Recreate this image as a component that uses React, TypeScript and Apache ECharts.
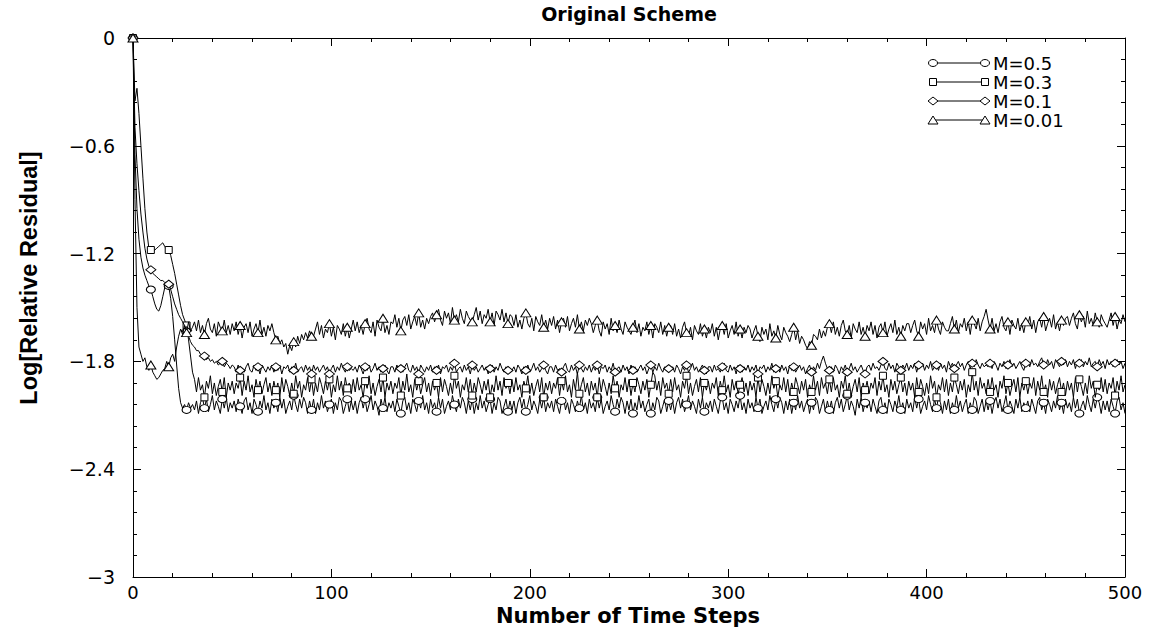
import React, { useEffect, useRef } from 'react';
import * as echarts from 'echarts';

const TITLE = 'Original Scheme';
const X_NAME = 'Number of Time Steps';
const Y_NAME = 'Log[Relative Residual]';
const SERIES_NAMES = ['M=0.5', 'M=0.3', 'M=0.1', 'M=0.01'];
const X_MIN = 0;
const X_MAX = 500;
const X_INTERVAL = 100;
const Y_MIN = -3;
const Y_MAX = 0;
const Y_INTERVAL = 0.6;

// time steps 0..500
const STEPS: number[] = [];
for (let s = 0; s <= 500; s++) STEPS.push(s);

// M=0.5 (steps 0-30, then rows of 20 steps from 31)
const M05 = [
  0, -0.65, -0.95, -1.12, -1.22, -1.28, -1.32, -1.35, -1.38, -1.40, -1.44, -1.48, -1.51, -1.52, -1.49, -1.44,
  -1.39, -1.36, -1.38, -1.45, -1.55, -1.68, -1.82, -1.95, -2.03, -2.06, -2.04, -2.07, -2.03, -2.06, -2.04,
  /* 31-50 */ -2.07, -2.02, -2.09, -2.03, -2.00, -2.06, -2.01, -2.08, -2.04, -1.99, -2.07, -2.02, -2.05, -2.09, -2.01, -2.06, -2.00, -2.08, -2.03, -2.06,
  /* 51-70 */ -2.02, -2.08, -2.01, -2.05, -2.09, -2.02, -2.00, -2.07, -2.03, -2.09, -2.01, -2.04, -2.08, -2.02, -2.06, -1.99, -2.07, -2.03, -2.09, -2.01,
  /* 71-90 */ -2.06, -2.03, -2.08, -2.00, -2.06, -2.01, -2.09, -2.05, -2.02, -2.07, -1.99, -2.04, -2.08, -2.01, -2.06, -2.00, -2.03, -2.09, -2.02, -2.07,
  /* 91-110 */ -2.01, -2.09, -2.03, -2.07, -1.99, -2.06, -2.02, -2.08, -2.04, -2.01, -2.09, -2.03, -2.07, -2.00, -2.02, -2.09, -2.05, -2.01, -2.08, -2.02,
  /* 111-130 */ -2.07, -2.02, -2.09, -2.03, -2.00, -2.06, -2.01, -2.08, -2.04, -1.99, -2.07, -2.02, -2.05, -2.10, -2.01, -2.06, -2.00, -2.08, -2.03, -2.06,
  /* 131-150 */ -2.02, -2.08, -2.01, -2.05, -2.09, -2.02, -2.00, -2.07, -2.03, -2.09, -2.01, -2.04, -2.08, -2.02, -2.06, -1.99, -2.07, -2.03, -2.09, -2.01,
  /* 151-170 */ -2.06, -2.03, -2.08, -2.00, -2.06, -2.01, -2.09, -2.05, -2.02, -2.07, -1.99, -2.04, -2.08, -2.01, -2.06, -2.00, -2.03, -2.09, -2.02, -2.07,
  /* 171-190 */ -2.01, -2.09, -2.03, -2.07, -1.99, -2.06, -2.02, -2.08, -2.04, -2.01, -2.09, -2.03, -2.07, -2.00, -2.02, -2.09, -2.05, -2.01, -2.08, -2.02,
  /* 191-210 */ -2.07, -2.02, -2.09, -2.03, -2.00, -2.06, -2.01, -2.08, -2.04, -1.99, -2.07, -2.02, -2.05, -2.09, -2.01, -2.06, -2.00, -2.08, -2.03, -2.06,
  /* 211-230 */ -2.02, -2.08, -2.01, -2.05, -2.09, -2.02, -2.00, -2.07, -2.03, -2.09, -2.01, -2.04, -2.08, -2.02, -2.06, -1.99, -2.07, -2.03, -2.09, -2.01,
  /* 231-250 */ -2.06, -2.03, -2.08, -2.00, -2.06, -2.01, -2.09, -2.05, -2.02, -2.07, -1.99, -2.04, -2.08, -2.01, -2.06, -2.00, -2.03, -2.09, -2.02, -2.07,
  /* 251-270 */ -2.01, -2.09, -2.03, -2.07, -1.99, -2.06, -2.02, -2.08, -2.04, -2.01, -2.09, -2.03, -2.07, -2.00, -2.02, -2.09, -2.05, -2.01, -2.08, -2.02,
  /* 271-290 */ -2.07, -2.02, -2.09, -2.03, -2.00, -2.06, -2.01, -2.08, -2.04, -1.99, -2.07, -2.02, -2.05, -2.09, -2.01, -2.06, -2.00, -2.08, -2.03, -2.06,
  /* 291-310 */ -2.02, -2.08, -2.01, -2.05, -2.09, -2.02, -2.00, -2.07, -2.03, -2.09, -2.01, -2.04, -2.08, -2.02, -2.06, -1.99, -2.07, -2.03, -2.09, -2.01,
  /* 311-330 */ -2.06, -2.03, -2.08, -2.00, -2.06, -2.01, -2.09, -2.05, -2.02, -2.07, -1.99, -2.04, -2.08, -2.01, -2.06, -2.00, -2.03, -2.09, -2.02, -2.07,
  /* 331-350 */ -2.01, -2.09, -2.03, -2.07, -1.99, -2.06, -2.02, -2.08, -2.04, -2.01, -2.09, -2.03, -2.07, -2.00, -2.02, -2.09, -2.05, -2.01, -2.08, -2.02,
  /* 351-370 */ -2.07, -2.02, -2.09, -2.03, -2.00, -2.06, -2.01, -2.08, -2.04, -1.99, -2.07, -2.02, -2.05, -2.10, -2.01, -2.06, -2.00, -2.08, -2.03, -2.06,
  /* 371-390 */ -2.02, -2.08, -2.01, -2.05, -2.09, -2.02, -2.00, -2.07, -2.03, -2.09, -2.01, -2.04, -2.08, -2.02, -2.06, -1.99, -2.07, -2.03, -2.09, -2.01,
  /* 391-410 */ -2.06, -2.03, -2.08, -2.00, -2.06, -2.01, -2.09, -2.05, -2.02, -2.07, -1.99, -2.04, -2.08, -2.01, -2.06, -2.00, -2.03, -2.09, -2.02, -2.07,
  /* 411-430 */ -2.01, -2.09, -2.03, -2.07, -1.99, -2.06, -2.02, -2.08, -2.04, -2.01, -2.09, -2.03, -2.07, -2.00, -2.02, -2.09, -2.05, -2.01, -2.08, -2.02,
  /* 431-450 */ -2.07, -2.02, -2.09, -2.03, -2.00, -2.06, -2.01, -2.08, -2.04, -1.99, -2.07, -2.02, -2.05, -2.09, -2.01, -2.06, -2.00, -2.08, -2.03, -2.06,
  /* 451-470 */ -2.02, -2.08, -2.01, -2.05, -2.09, -2.02, -2.00, -2.07, -2.03, -2.09, -2.01, -2.04, -2.08, -2.02, -2.06, -1.99, -2.07, -2.03, -2.09, -2.01,
  /* 471-490 */ -2.06, -2.03, -2.08, -2.00, -2.06, -2.01, -2.09, -2.05, -2.02, -2.07, -1.99, -2.04, -2.08, -2.01, -2.06, -2.00, -2.03, -2.09, -2.02, -2.07,
  /* 491-500 */ -2.02, -2.08, -2.01, -2.05, -2.09, -2.02, -2.00, -2.07, -2.03, -2.09,
];

// M=0.3
const M03 = [
  0, -0.35, -0.28, -0.42, -0.60, -0.78, -0.95, -1.08, -1.17, -1.18, -1.19, -1.18, -1.17, -1.16, -1.15, -1.14,
  -1.16, -1.18, -1.18, -1.21, -1.26, -1.31, -1.37, -1.43, -1.49, -1.54, -1.57, -1.60, -1.68, -1.77, -1.86,
  /* 31-50 */ -1.90, -1.97, -1.89, -1.96, -1.93, -2.00, -1.91, -1.95, -1.88, -1.98, -1.92, -1.99, -1.94, -1.90, -1.97, -1.89, -2.00, -1.92, -1.96, -1.91,
  /* 51-70 */ -1.98, -1.92, -1.95, -1.89, -1.99, -1.91, -1.96, -1.88, -1.97, -1.93, -2.00, -1.90, -1.96, -1.91, -1.98, -1.93, -1.89, -1.97, -1.92, -1.99,
  /* 71-90 */ -1.91, -1.96, -1.92, -2.00, -1.89, -1.97, -1.90, -1.94, -1.99, -1.92, -1.98, -1.88, -1.95, -1.91, -2.00, -1.93, -1.96, -1.89, -1.97, -1.90,
  /* 91-110 */ -1.99, -1.92, -1.97, -1.89, -1.93, -1.98, -1.91, -1.96, -1.90, -2.00, -1.93, -1.97, -1.88, -1.96, -1.91, -1.99, -1.89, -1.95, -1.92, -1.98,
  /* 111-130 */ -1.90, -1.97, -1.89, -1.96, -1.93, -2.00, -1.91, -1.95, -1.88, -1.98, -1.92, -1.99, -1.94, -1.90, -1.97, -1.89, -2.00, -1.92, -1.96, -1.91,
  /* 131-150 */ -1.98, -1.92, -1.95, -1.89, -1.99, -1.91, -1.96, -1.87, -1.97, -1.93, -2.00, -1.90, -1.96, -1.91, -1.98, -1.93, -1.89, -1.97, -1.92, -1.99,
  /* 151-170 */ -1.91, -1.96, -1.92, -2.00, -1.89, -1.97, -1.90, -1.94, -1.99, -1.92, -1.98, -1.88, -1.95, -1.91, -2.00, -1.93, -1.96, -1.89, -1.97, -1.90,
  /* 171-190 */ -1.99, -1.92, -1.97, -1.89, -1.93, -1.98, -1.91, -1.96, -1.90, -2.00, -1.93, -1.97, -1.88, -1.96, -1.91, -1.99, -1.89, -1.95, -1.92, -1.98,
  /* 191-210 */ -1.90, -1.97, -1.89, -1.96, -1.93, -2.00, -1.91, -1.95, -1.88, -1.98, -1.92, -1.99, -1.94, -1.90, -1.97, -1.89, -2.00, -1.92, -1.96, -1.91,
  /* 211-230 */ -1.98, -1.92, -1.95, -1.89, -1.99, -1.91, -1.96, -1.88, -1.97, -1.93, -2.00, -1.90, -1.96, -1.86, -1.98, -1.93, -1.89, -1.97, -1.92, -1.99,
  /* 231-250 */ -1.91, -1.96, -1.92, -2.00, -1.89, -1.97, -1.90, -1.94, -1.99, -1.92, -1.98, -1.88, -1.95, -1.91, -2.00, -1.93, -1.96, -1.89, -1.97, -1.90,
  /* 251-270 */ -1.99, -1.92, -1.97, -1.89, -1.93, -1.98, -1.91, -1.96, -1.90, -2.00, -1.93, -1.86, -1.88, -1.96, -1.91, -1.99, -1.89, -1.95, -1.92, -1.98,
  /* 271-290 */ -1.90, -1.97, -1.89, -1.96, -1.93, -2.00, -1.91, -1.95, -1.88, -1.98, -1.92, -1.99, -1.94, -1.90, -1.97, -1.89, -2.00, -1.92, -1.96, -1.91,
  /* 291-310 */ -1.98, -1.92, -1.95, -1.89, -1.99, -1.91, -1.96, -1.88, -1.97, -1.93, -2.00, -1.90, -1.96, -1.91, -1.98, -1.93, -1.89, -1.97, -1.92, -1.99,
  /* 311-330 */ -1.91, -1.96, -1.92, -2.00, -1.89, -1.97, -1.90, -1.94, -1.99, -1.92, -1.98, -1.88, -1.95, -1.91, -2.00, -1.93, -1.96, -1.89, -1.97, -1.90,
  /* 331-350 */ -1.99, -1.92, -1.97, -1.89, -1.93, -1.98, -1.91, -1.96, -1.90, -2.00, -1.93, -1.97, -1.88, -1.96, -1.91, -1.99, -1.89, -1.95, -1.92, -1.98,
  /* 351-370 */ -1.90, -1.97, -1.89, -1.96, -1.93, -2.00, -1.91, -1.95, -1.88, -1.98, -1.92, -1.99, -1.94, -1.90, -1.97, -1.89, -2.00, -1.92, -1.96, -1.91,
  /* 371-390 */ -1.98, -1.92, -1.95, -1.89, -1.99, -1.91, -1.96, -1.88, -1.97, -1.93, -2.00, -1.90, -1.96, -1.91, -1.98, -1.93, -1.89, -1.97, -1.92, -1.99,
  /* 391-410 */ -1.91, -1.96, -1.92, -2.00, -1.89, -1.97, -1.90, -1.94, -1.99, -1.92, -1.98, -1.88, -1.95, -1.91, -2.00, -1.93, -1.96, -1.89, -1.97, -1.90,
  /* 411-430 */ -1.99, -1.92, -1.97, -1.89, -1.93, -1.98, -1.91, -1.96, -1.90, -2.00, -1.93, -1.97, -1.86, -1.96, -1.91, -1.99, -1.89, -1.95, -1.92, -1.98,
  /* 431-450 */ -1.90, -1.97, -1.89, -1.96, -1.93, -2.00, -1.91, -1.95, -1.88, -1.98, -1.92, -1.99, -1.94, -1.90, -1.97, -1.89, -2.00, -1.92, -1.96, -1.91,
  /* 451-470 */ -1.98, -1.92, -1.95, -1.89, -1.99, -1.91, -1.96, -1.88, -1.97, -1.93, -2.00, -1.90, -1.96, -1.91, -1.98, -1.93, -1.89, -1.97, -1.92, -1.99,
  /* 471-490 */ -1.91, -1.96, -1.92, -2.00, -1.89, -1.97, -1.90, -1.94, -1.99, -1.92, -1.98, -1.88, -1.95, -1.91, -2.00, -1.93, -1.96, -1.89, -1.97, -1.90,
  /* 491-500 */ -1.98, -1.92, -1.95, -1.89, -1.99, -1.91, -1.96, -1.88, -1.97, -1.93,
];

// M=0.1
const M01 = [
  0, -0.50, -0.70, -0.85, -0.98, -1.08, -1.17, -1.23, -1.27, -1.29, -1.31, -1.32, -1.33, -1.34, -1.35, -1.35,
  -1.36, -1.36, -1.37, -1.40, -1.44, -1.48, -1.51, -1.54, -1.56, -1.58, -1.60, -1.63, -1.66, -1.69, -1.71,
  /* 31-50 */ -1.72, -1.74, -1.74, -1.76, -1.77, -1.77, -1.79, -1.78, -1.80, -1.79, -1.81, -1.80, -1.82, -1.81, -1.80, -1.83, -1.81, -1.82, -1.84, -1.82,
  /* 51-70 */ -1.83, -1.86, -1.82, -1.85, -1.84, -1.86, -1.83, -1.81, -1.85, -1.86, -1.82, -1.85, -1.83, -1.87, -1.82, -1.84, -1.86, -1.83, -1.85, -1.82,
  /* 71-90 */ -1.86, -1.83, -1.85, -1.82, -1.87, -1.83, -1.84, -1.82, -1.86, -1.83, -1.85, -1.81, -1.86, -1.84, -1.83, -1.86, -1.82, -1.85, -1.83, -1.87,
  /* 91-110 */ -1.82, -1.85, -1.83, -1.86, -1.84, -1.82, -1.85, -1.83, -1.87, -1.84, -1.82, -1.86, -1.83, -1.85, -1.81, -1.84, -1.86, -1.83, -1.85, -1.84,
  /* 111-130 */ -1.85, -1.83, -1.86, -1.82, -1.84, -1.87, -1.83, -1.85, -1.82, -1.86, -1.84, -1.81, -1.85, -1.83, -1.86, -1.84, -1.82, -1.85, -1.87, -1.83,
  /* 131-150 */ -1.83, -1.86, -1.82, -1.85, -1.84, -1.86, -1.83, -1.81, -1.85, -1.86, -1.82, -1.85, -1.83, -1.87, -1.82, -1.84, -1.86, -1.83, -1.85, -1.82,
  /* 151-170 */ -1.86, -1.83, -1.85, -1.82, -1.87, -1.83, -1.84, -1.82, -1.86, -1.83, -1.85, -1.81, -1.86, -1.84, -1.83, -1.86, -1.82, -1.85, -1.83, -1.87,
  /* 171-190 */ -1.82, -1.85, -1.83, -1.86, -1.84, -1.82, -1.85, -1.83, -1.87, -1.84, -1.82, -1.86, -1.83, -1.85, -1.81, -1.84, -1.86, -1.83, -1.85, -1.84,
  /* 191-210 */ -1.85, -1.83, -1.86, -1.82, -1.84, -1.87, -1.83, -1.85, -1.82, -1.86, -1.84, -1.81, -1.85, -1.83, -1.86, -1.84, -1.82, -1.85, -1.87, -1.83,
  /* 211-230 */ -1.83, -1.86, -1.82, -1.85, -1.84, -1.86, -1.83, -1.81, -1.85, -1.86, -1.82, -1.85, -1.83, -1.87, -1.82, -1.84, -1.86, -1.83, -1.85, -1.82,
  /* 231-250 */ -1.86, -1.83, -1.85, -1.82, -1.87, -1.83, -1.84, -1.82, -1.86, -1.83, -1.85, -1.81, -1.86, -1.84, -1.83, -1.86, -1.82, -1.85, -1.83, -1.87,
  /* 251-270 */ -1.82, -1.85, -1.83, -1.86, -1.84, -1.82, -1.85, -1.83, -1.87, -1.84, -1.82, -1.86, -1.83, -1.85, -1.81, -1.84, -1.86, -1.83, -1.85, -1.84,
  /* 271-290 */ -1.85, -1.83, -1.86, -1.82, -1.84, -1.87, -1.83, -1.85, -1.82, -1.86, -1.84, -1.81, -1.85, -1.83, -1.86, -1.84, -1.82, -1.85, -1.87, -1.83,
  /* 291-310 */ -1.83, -1.86, -1.82, -1.85, -1.84, -1.86, -1.83, -1.81, -1.85, -1.86, -1.82, -1.85, -1.83, -1.87, -1.82, -1.84, -1.86, -1.83, -1.85, -1.82,
  /* 311-330 */ -1.86, -1.83, -1.85, -1.82, -1.87, -1.83, -1.84, -1.82, -1.86, -1.83, -1.85, -1.81, -1.86, -1.84, -1.83, -1.86, -1.82, -1.85, -1.83, -1.87,
  /* 331-350 */ -1.82, -1.85, -1.83, -1.86, -1.84, -1.82, -1.85, -1.83, -1.87, -1.84, -1.82, -1.86, -1.83, -1.85, -1.81, -1.84, -1.80, -1.77, -1.81, -1.84,
  /* 351-370 */ -1.85, -1.83, -1.86, -1.82, -1.84, -1.87, -1.83, -1.85, -1.82, -1.86, -1.84, -1.81, -1.85, -1.83, -1.86, -1.84, -1.82, -1.85, -1.87, -1.83,
  /* 371-390 */ -1.82, -1.85, -1.81, -1.84, -1.83, -1.85, -1.82, -1.80, -1.84, -1.85, -1.81, -1.84, -1.82, -1.86, -1.81, -1.83, -1.85, -1.82, -1.84, -1.81,
  /* 391-410 */ -1.85, -1.82, -1.84, -1.81, -1.86, -1.82, -1.83, -1.81, -1.85, -1.82, -1.84, -1.80, -1.85, -1.83, -1.82, -1.85, -1.81, -1.84, -1.82, -1.86,
  /* 411-430 */ -1.80, -1.83, -1.81, -1.84, -1.82, -1.80, -1.83, -1.81, -1.85, -1.82, -1.80, -1.84, -1.81, -1.83, -1.79, -1.82, -1.84, -1.81, -1.83, -1.82,
  /* 431-450 */ -1.83, -1.81, -1.84, -1.80, -1.82, -1.85, -1.81, -1.83, -1.80, -1.84, -1.82, -1.79, -1.83, -1.81, -1.84, -1.82, -1.80, -1.83, -1.85, -1.81,
  /* 451-470 */ -1.80, -1.83, -1.79, -1.82, -1.81, -1.83, -1.80, -1.78, -1.82, -1.83, -1.79, -1.82, -1.80, -1.84, -1.79, -1.81, -1.83, -1.80, -1.82, -1.79,
  /* 471-490 */ -1.83, -1.80, -1.82, -1.79, -1.84, -1.80, -1.81, -1.79, -1.83, -1.80, -1.82, -1.78, -1.83, -1.81, -1.80, -1.83, -1.79, -1.82, -1.80, -1.84,
  /* 491-500 */ -1.79, -1.82, -1.80, -1.83, -1.81, -1.79, -1.82, -1.80, -1.84, -1.81,
];

// M=0.01
const M001 = [
  0, -0.90, -1.50, -1.72, -1.76, -1.80, -1.78, -1.83, -1.85, -1.82, -1.86, -1.88, -1.90, -1.89, -1.87, -1.85,
  -1.84, -1.80, -1.83, -1.78, -1.76, -1.80, -1.72, -1.66, -1.62, -1.65, -1.60, -1.64, -1.58, -1.63, -1.61,
  /* 31-50 */ -1.58, -1.63, -1.57, -1.64, -1.60, -1.65, -1.59, -1.56, -1.62, -1.64, -1.59, -1.66, -1.58, -1.61, -1.63, -1.57, -1.64, -1.60, -1.65, -1.59,
  /* 51-70 */ -1.63, -1.58, -1.65, -1.60, -1.67, -1.61, -1.59, -1.64, -1.58, -1.66, -1.62, -1.59, -1.64, -1.57, -1.65, -1.61, -1.66, -1.60, -1.63, -1.59,
  /* 71-90 */ -1.64, -1.68, -1.66, -1.70, -1.68, -1.72, -1.70, -1.76, -1.71, -1.74, -1.69, -1.72, -1.66, -1.70, -1.65, -1.68, -1.64, -1.67, -1.63, -1.66,
  /* 91-110 */ -1.66, -1.62, -1.58, -1.65, -1.60, -1.67, -1.62, -1.64, -1.59, -1.66, -1.61, -1.68, -1.60, -1.62, -1.65, -1.59, -1.66, -1.61, -1.67, -1.62,
  /* 111-130 */ -1.57, -1.63, -1.58, -1.64, -1.60, -1.65, -1.59, -1.56, -1.62, -1.64, -1.58, -1.66, -1.57, -1.61, -1.63, -1.56, -1.64, -1.60, -1.65, -1.58,
  /* 131-150 */ -1.59, -1.54, -1.61, -1.56, -1.63, -1.57, -1.55, -1.60, -1.54, -1.62, -1.58, -1.55, -1.60, -1.53, -1.61, -1.57, -1.62, -1.56, -1.59, -1.55,
  /* 151-170 */ -1.53, -1.58, -1.54, -1.51, -1.57, -1.60, -1.52, -1.56, -1.53, -1.59, -1.50, -1.57, -1.54, -1.58, -1.51, -1.56, -1.59, -1.52, -1.55, -1.57,
  /* 171-190 */ -1.58, -1.54, -1.50, -1.57, -1.52, -1.59, -1.54, -1.56, -1.51, -1.58, -1.53, -1.60, -1.52, -1.54, -1.57, -1.51, -1.58, -1.53, -1.59, -1.54,
  /* 191-210 */ -1.55, -1.60, -1.54, -1.61, -1.57, -1.62, -1.56, -1.53, -1.59, -1.61, -1.56, -1.63, -1.55, -1.58, -1.60, -1.54, -1.61, -1.57, -1.62, -1.56,
  /* 211-230 */ -1.60, -1.55, -1.62, -1.57, -1.64, -1.58, -1.56, -1.61, -1.55, -1.63, -1.59, -1.56, -1.61, -1.54, -1.62, -1.58, -1.63, -1.57, -1.60, -1.56,
  /* 231-250 */ -1.59, -1.64, -1.60, -1.57, -1.63, -1.66, -1.58, -1.62, -1.59, -1.65, -1.56, -1.63, -1.60, -1.64, -1.57, -1.62, -1.65, -1.58, -1.61, -1.63,
  /* 251-270 */ -1.65, -1.61, -1.57, -1.64, -1.59, -1.66, -1.61, -1.63, -1.58, -1.65, -1.60, -1.67, -1.59, -1.61, -1.64, -1.58, -1.65, -1.60, -1.66, -1.61,
  /* 271-290 */ -1.60, -1.65, -1.59, -1.66, -1.62, -1.67, -1.61, -1.58, -1.64, -1.66, -1.61, -1.68, -1.60, -1.63, -1.65, -1.59, -1.66, -1.62, -1.67, -1.61,
  /* 291-310 */ -1.64, -1.59, -1.66, -1.61, -1.68, -1.62, -1.60, -1.65, -1.59, -1.67, -1.63, -1.60, -1.65, -1.58, -1.66, -1.62, -1.67, -1.61, -1.64, -1.60,
  /* 311-330 */ -1.62, -1.67, -1.63, -1.60, -1.66, -1.69, -1.61, -1.65, -1.62, -1.68, -1.59, -1.66, -1.63, -1.67, -1.60, -1.65, -1.68, -1.61, -1.64, -1.66,
  /* 331-350 */ -1.69, -1.65, -1.61, -1.68, -1.63, -1.70, -1.66, -1.68, -1.71, -1.73, -1.69, -1.71, -1.65, -1.66, -1.68, -1.62, -1.67, -1.63, -1.66, -1.61,
  /* 351-370 */ -1.59, -1.64, -1.58, -1.65, -1.61, -1.66, -1.60, -1.57, -1.63, -1.65, -1.60, -1.67, -1.59, -1.62, -1.64, -1.58, -1.65, -1.61, -1.66, -1.60,
  /* 371-390 */ -1.63, -1.58, -1.65, -1.60, -1.67, -1.61, -1.59, -1.64, -1.58, -1.66, -1.62, -1.59, -1.64, -1.57, -1.65, -1.61, -1.66, -1.60, -1.63, -1.59,
  /* 391-410 */ -1.59, -1.64, -1.60, -1.57, -1.63, -1.66, -1.58, -1.62, -1.59, -1.65, -1.56, -1.63, -1.60, -1.64, -1.57, -1.62, -1.65, -1.58, -1.61, -1.63,
  /* 411-430 */ -1.63, -1.59, -1.55, -1.62, -1.57, -1.64, -1.59, -1.61, -1.56, -1.63, -1.58, -1.65, -1.57, -1.59, -1.62, -1.56, -1.63, -1.58, -1.55, -1.51,
  /* 431-450 */ -1.57, -1.62, -1.56, -1.63, -1.59, -1.64, -1.58, -1.55, -1.61, -1.63, -1.58, -1.65, -1.57, -1.60, -1.62, -1.56, -1.63, -1.59, -1.64, -1.58,
  /* 451-470 */ -1.60, -1.55, -1.62, -1.57, -1.64, -1.58, -1.56, -1.61, -1.55, -1.63, -1.59, -1.56, -1.61, -1.54, -1.62, -1.58, -1.63, -1.57, -1.60, -1.56,
  /* 471-490 */ -1.55, -1.60, -1.56, -1.53, -1.59, -1.62, -1.54, -1.58, -1.55, -1.61, -1.52, -1.59, -1.56, -1.60, -1.53, -1.58, -1.61, -1.54, -1.57, -1.59,
  /* 491-500 */ -1.61, -1.57, -1.53, -1.60, -1.55, -1.62, -1.57, -1.59, -1.54, -1.58,
];

const SERIES_VALUES = [M05, M03, M01, M001];
const SYMBOLS = ['circle', 'rect', 'diamond', 'triangle'];
const SYMBOL_SIZES: number[][] = [[9, 7], [7, 7], [10, 8], [10, 8]];
const MARKER_EVERY = 9;

const MARK = STEPS.map((s) => s % MARKER_EVERY === 0);

const LABEL_FONT = 'DejaVu Sans';

function legendMarker(kind: string, cx: number, cy: number): any {
  const style = { fill: '#fff', stroke: '#000', lineWidth: 1 };
  if (kind === 'circle') return { type: 'ellipse', shape: { cx, cy, rx: 4.5, ry: 3.5 }, style };
  if (kind === 'rect') return { type: 'rect', shape: { x: cx - 3.5, y: cy - 3.5, width: 7, height: 7 }, style };
  if (kind === 'diamond')
    return { type: 'polygon', shape: { points: [[cx - 5, cy], [cx, cy - 4], [cx + 5, cy], [cx, cy + 4]] }, style };
  return { type: 'polygon', shape: { points: [[cx - 5, cy + 4], [cx, cy - 4], [cx + 5, cy + 4]] }, style };
}

export default function App() {
  const ref = useRef<HTMLDivElement>(null);
  useEffect(() => {
    if (!ref.current) return;
    const chart = echarts.init(ref.current, undefined, { renderer: 'svg' });

    const axisCommon: any = {
      type: 'value',
      axisLine: { show: true, onZero: false, lineStyle: { color: '#000', width: 1 } },
      axisTick: { show: true, inside: true, length: 8, lineStyle: { color: '#000', width: 1 } },
      minorTick: { show: true, splitNumber: 5, length: 4, lineStyle: { color: '#000', width: 1 } },
      splitLine: { show: false },
      minorSplitLine: { show: false },
    };

    const fmtY = (v: number) => {
      if (Math.abs(v) < 1e-9) return '0';
      const a = parseFloat(Math.abs(v).toFixed(1));
      return (v < 0 ? '\u2212' : '') + String(a);
    };

    const legendGraphics: any[] = [];
    const legendRowsY = [63, 82, 101, 120];
    SERIES_NAMES.forEach((name, i) => {
      const y = legendRowsY[i];
      legendGraphics.push({ type: 'line', shape: { x1: 933, y1: y, x2: 985, y2: y }, style: { stroke: '#000', lineWidth: 1 } });
      legendGraphics.push(legendMarker(SYMBOLS[i], 933, y));
      legendGraphics.push(legendMarker(SYMBOLS[i], 985, y));
      legendGraphics.push({
        type: 'text',
        x: 993,
        y,
        style: { text: name, fontSize: 18, lineHeight: 17, fontFamily: LABEL_FONT, fill: '#000', align: 'left', verticalAlign: 'middle' },
      });
    });

    const option: any = {
      animation: false,
      backgroundColor: '#fff',
      grid: { left: 133, right: 35, top: 38, bottom: 52, containLabel: false },
      xAxis: [
        {
          ...axisCommon,
          position: 'bottom',
          min: X_MIN,
          max: X_MAX,
          interval: X_INTERVAL,
          axisLabel: { show: true, margin: 6, fontSize: 18, fontFamily: LABEL_FONT, color: '#000' },
        },
        {
          ...axisCommon,
          position: 'top',
          min: X_MIN,
          max: X_MAX,
          interval: X_INTERVAL,
          axisLabel: { show: false },
        },
      ],
      yAxis: [
        {
          ...axisCommon,
          position: 'left',
          min: Y_MIN,
          max: Y_MAX,
          interval: Y_INTERVAL,
          axisLabel: { show: true, margin: 18, fontSize: 19, fontFamily: LABEL_FONT, color: '#000', formatter: fmtY },
        },
        {
          ...axisCommon,
          position: 'right',
          min: Y_MIN,
          max: Y_MAX,
          interval: Y_INTERVAL,
          axisLabel: { show: false },
        },
      ],
      series: SERIES_VALUES.map((vals, k) => ({
        type: 'line',
        name: SERIES_NAMES[k],
        xAxisIndex: 0,
        yAxisIndex: 0,
        data: STEPS.map((s, i) => [s, vals[i]]),
        symbol: (_v: any, p: any) => (MARK[p.dataIndex] ? SYMBOLS[k] : 'none'),
        symbolSize: SYMBOL_SIZES[k],
        showAllSymbol: true,
        lineStyle: { color: '#000', width: 1 },
        itemStyle: { color: '#fff', borderColor: '#000', borderWidth: 1 },
        emphasis: { disabled: true },
        silent: true,
        z: 2 + k,
      })),
      graphic: [
        {
          type: 'text',
          x: 629,
          y: 14,
          style: { text: TITLE, fontSize: 19, fontWeight: 'bold', fontFamily: LABEL_FONT, fill: '#000', align: 'center', verticalAlign: 'middle' },
        },
        {
          type: 'text',
          x: 628,
          y: 616,
          style: { text: X_NAME, fontSize: 21, fontWeight: 'bold', fontFamily: LABEL_FONT, fill: '#000', align: 'center', verticalAlign: 'middle' },
        },
        {
          type: 'text',
          x: 29,
          y: 278,
          rotation: Math.PI / 2,
          style: { text: Y_NAME, fontSize: 23.5, fontWeight: 'bold', fontFamily: 'Liberation Sans', fill: '#000', align: 'center', verticalAlign: 'middle' },
        },
        ...legendGraphics,
      ],
    };
    chart.setOption(option);
    return () => chart.dispose();
  }, []);

  return <div ref={ref} style={{ position: 'fixed', left: 0, top: 0, width: 1160, height: 629, background: '#fff' }} />;
}
